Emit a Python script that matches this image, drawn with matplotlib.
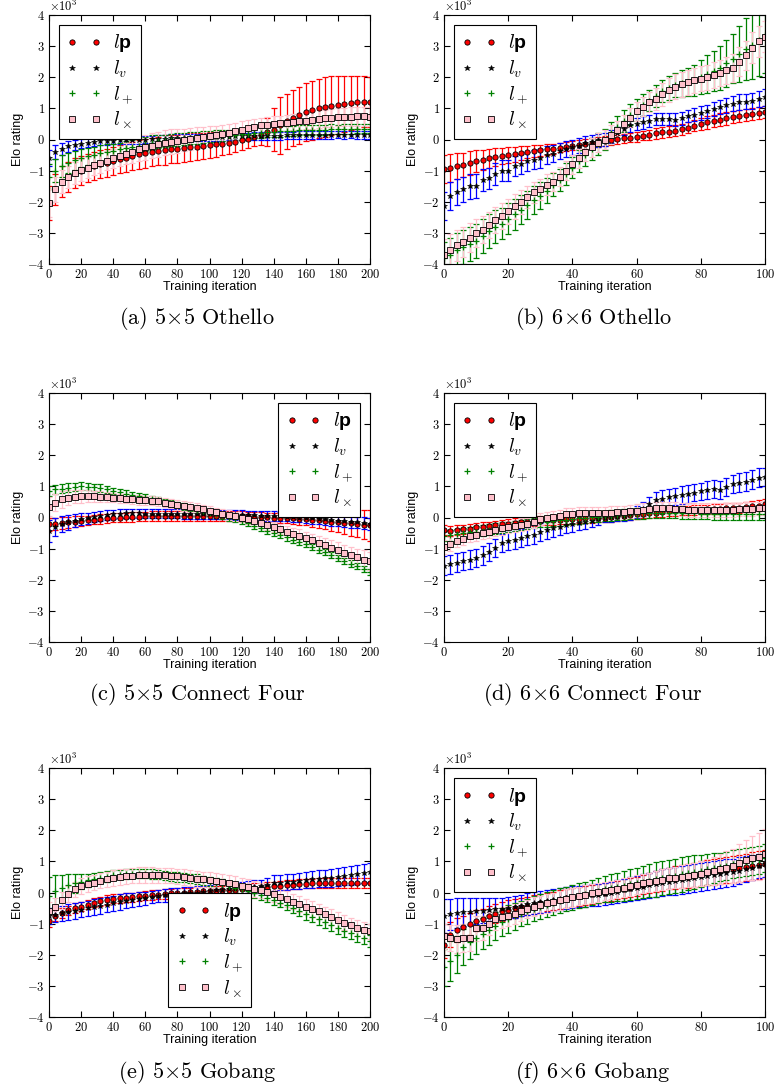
import matplotlib
matplotlib.use("Agg")
import matplotlib.pyplot as plt
import numpy as np
from matplotlib.ticker import MultipleLocator

plt.rcParams["font.family"] = "serif"
plt.rcParams["font.serif"] = ["cmr10"]
plt.rcParams["axes.formatter.use_mathtext"] = True
plt.rcParams["mathtext.fontset"] = "custom"
plt.rcParams["mathtext.rm"] = "cmr10"
plt.rcParams["mathtext.it"] = "cmmi10"
plt.rcParams["mathtext.bf"] = "Liberation Sans:bold"
plt.rcParams["mathtext.sf"] = "Liberation Sans"

# iterations at which values were read (5x5 boards: 0..200, 6x6 boards: 0..100)
iter_5x5 = list(range(0, 201, 4))
iter_6x6 = list(range(0, 101, 2))

# Elo ratings, in thousands
# (a) 5x5 Othello
a_lp = [-2.05, -1.6, -1.35, -1.2, -1.08, -1.0, -0.93, -0.86, -0.8, -0.74, -0.68,
        -0.63, -0.58, -0.53, -0.48, -0.44, -0.4, -0.37, -0.34, -0.31, -0.29, -0.27, -0.25, -0.23, -0.21, -0.19,
        -0.16, -0.13, -0.1, -0.07, -0.03, 0.02, 0.08, 0.15, 0.23,
        0.32, 0.45, 0.58, 0.68, 0.78, 0.87, 0.94, 1.0, 1.05, 1.09, 1.12, 1.15, 1.17, 1.2, 1.22, 1.21]
a_lp_err = [0.55, 0.5, 0.5, 0.48, 0.47, 0.46, 0.45, 0.45, 0.45, 0.45, 0.45,
            0.45, 0.46, 0.45, 0.47, 0.46, 0.45, 0.46, 0.47, 0.46, 0.45, 0.44, 0.45, 0.44, 0.43, 0.42,
            0.4, 0.38, 0.36, 0.34, 0.32, 0.3, 0.3, 0.32, 0.45,
            0.7, 0.9, 0.88, 0.9, 0.92, 0.93, 0.95, 0.95, 0.96, 0.95, 0.93, 0.9, 0.88, 0.85, 0.82, 0.8]
a_lv = [-0.6, -0.4, -0.3, -0.22, -0.17, -0.13, -0.1, -0.08, -0.06, -0.05, -0.04,
        -0.03, -0.02, -0.02, -0.01, 0.0, 0.01, 0.02, 0.03, 0.04, 0.05, 0.05, 0.06, 0.07, 0.07, 0.08,
        0.08, 0.09, 0.09, 0.1, 0.1, 0.1, 0.11, 0.11, 0.12,
        0.12, 0.12, 0.13, 0.13, 0.14, 0.14, 0.14, 0.15, 0.15, 0.15, 0.15, 0.15, 0.16, 0.15, 0.15, 0.15]
a_lv_err = [0.25, 0.22, 0.2, 0.18, 0.16, 0.15, 0.14, 0.13, 0.13, 0.12, 0.12,
            0.12, 0.12, 0.13, 0.12, 0.12, 0.11, 0.12, 0.12, 0.13, 0.12, 0.12, 0.11, 0.12, 0.12, 0.12,
            0.12, 0.13, 0.12, 0.12, 0.11, 0.12, 0.12, 0.12, 0.13,
            0.12, 0.12, 0.12, 0.11, 0.12, 0.12, 0.13, 0.12, 0.12, 0.12, 0.11, 0.12, 0.12, 0.12, 0.12, 0.12]
a_lplus = [-1.2, -1.0, -0.85, -0.75, -0.67, -0.6, -0.54, -0.49, -0.44, -0.4, -0.36,
           -0.32, -0.28, -0.24, -0.2, -0.15, -0.1, -0.06, -0.04, -0.02, 0.0, 0.02, 0.04, 0.06, 0.08, 0.1,
           0.11, 0.13, 0.14, 0.16, 0.18, 0.19, 0.21, 0.22, 0.24,
           0.25, 0.26, 0.27, 0.28, 0.29, 0.3, 0.31, 0.31, 0.32, 0.33, 0.33, 0.34, 0.34, 0.35, 0.35, 0.35]
a_lplus_err = [0.4, 0.38, 0.35, 0.33, 0.3, 0.28, 0.27, 0.26, 0.25, 0.24, 0.23,
               0.22, 0.22, 0.21, 0.21, 0.22, 0.24, 0.22, 0.2, 0.2, 0.2, 0.19, 0.19, 0.19, 0.18, 0.18,
               0.18, 0.18, 0.18, 0.18, 0.18, 0.17, 0.17, 0.17, 0.17,
               0.17, 0.17, 0.17, 0.16, 0.16, 0.16, 0.16, 0.16, 0.16, 0.16, 0.15, 0.15, 0.15, 0.15, 0.15, 0.15]
a_lx = [-2.05, -1.6, -1.35, -1.2, -1.08, -0.98, -0.9, -0.83, -0.76, -0.68, -0.6,
        -0.53, -0.46, -0.4, -0.32, -0.25, -0.2, -0.15, -0.11, -0.07, -0.04, -0.01, 0.02, 0.05, 0.08, 0.11,
        0.14, 0.18, 0.22, 0.27, 0.32, 0.37, 0.41, 0.45, 0.48,
        0.5, 0.52, 0.54, 0.56, 0.58, 0.6, 0.63, 0.66, 0.68, 0.7, 0.71, 0.72, 0.73, 0.74, 0.74, 0.73]
a_lx_err = [0.45, 0.4, 0.38, 0.36, 0.35, 0.34, 0.33, 0.32, 0.32, 0.31, 0.3,
            0.32, 0.34, 0.36, 0.38, 0.4, 0.4, 0.4, 0.4, 0.4, 0.38, 0.36, 0.35, 0.34, 0.33, 0.32,
            0.3, 0.3, 0.28, 0.27, 0.26, 0.26, 0.25, 0.25, 0.25,
            0.25, 0.25, 0.26, 0.26, 0.27, 0.27, 0.28, 0.28, 0.28, 0.29, 0.29, 0.3, 0.3, 0.3, 0.3, 0.3]

# (b) 6x6 Othello
b_lp = [-0.95, -0.9, -0.85, -0.82, -0.76, -0.7, -0.66, -0.6, -0.56, -0.53,
        -0.5, -0.47, -0.43, -0.4, -0.37, -0.35, -0.32, -0.29, -0.26, -0.23,
        -0.2, -0.17, -0.14, -0.11, -0.08, -0.05, -0.02, 0.01, 0.04, 0.06,
        0.08, 0.12, 0.16, 0.2, 0.23, 0.25, 0.28, 0.33, 0.38, 0.44,
        0.5, 0.55, 0.6, 0.64, 0.68, 0.72, 0.75, 0.78, 0.82, 0.85, 0.88]
b_lp_err = [0.45, 0.45, 0.42, 0.4, 0.38, 0.35, 0.32, 0.3, 0.28, 0.27,
            0.25, 0.24, 0.22, 0.2, 0.19, 0.18, 0.17, 0.16, 0.15, 0.15,
            0.15, 0.15, 0.15, 0.15, 0.15, 0.15, 0.15, 0.15, 0.15, 0.15,
            0.15, 0.15, 0.16, 0.17, 0.17, 0.18, 0.18, 0.18, 0.18, 0.18,
            0.2, 0.2, 0.2, 0.2, 0.2, 0.2, 0.2, 0.2, 0.2, 0.2, 0.2]
b_lv = [-2.15, -1.8, -1.7, -1.6, -1.5, -1.5, -1.3, -1.25, -1.1, -1.0,
        -1.0, -0.85, -0.8, -0.7, -0.65, -0.6, -0.5, -0.45, -0.38, -0.3,
        -0.25, -0.2, -0.12, -0.08, -0.03, 0.0, 0.1, 0.2, 0.35, 0.45,
        0.5, 0.55, 0.6, 0.65, 0.66, 0.65, 0.64, 0.68, 0.75, 0.8,
        0.85, 0.9, 0.98, 1.05, 1.1, 1.15, 1.2, 1.22, 1.25, 1.3, 1.35]
b_lv_err = [0.45, 0.45, 0.42, 0.4, 0.4, 0.38, 0.36, 0.35, 0.35, 0.34,
            0.33, 0.32, 0.32, 0.3, 0.3, 0.3, 0.28, 0.27, 0.26, 0.25,
            0.25, 0.24, 0.23, 0.22, 0.22, 0.2, 0.2, 0.2, 0.2, 0.2,
            0.2, 0.2, 0.2, 0.2, 0.2, 0.2, 0.2, 0.2, 0.2, 0.22,
            0.22, 0.22, 0.23, 0.23, 0.24, 0.24, 0.25, 0.25, 0.26, 0.27, 0.28]
b_lplus = [-3.8, -3.7, -3.55, -3.45, -3.35, -3.25, -3.1, -2.95, -2.8, -2.7,
           -2.55, -2.4, -2.25, -2.1, -1.95, -1.8, -1.65, -1.45, -1.3, -1.1,
           -0.9, -0.7, -0.5, -0.3, -0.15, 0.0, 0.2, 0.4, 0.6, 0.8,
           0.95, 1.1, 1.25, 1.4, 1.55, 1.65, 1.75, 1.8, 1.85, 1.9,
           2.0, 2.1, 2.2, 2.3, 2.45, 2.6, 2.75, 2.9, 3.05, 3.2, 3.35]
b_lplus_err = [0.5, 0.55, 0.55, 0.55, 0.55, 0.55, 0.55, 0.55, 0.52, 0.5,
               0.5, 0.5, 0.48, 0.46, 0.44, 0.42, 0.4, 0.38, 0.36, 0.35,
               0.35, 0.35, 0.35, 0.35, 0.35, 0.35, 0.35, 0.35, 0.35, 0.35,
               0.35, 0.35, 0.35, 0.35, 0.35, 0.38, 0.4, 0.42, 0.45, 0.5,
               0.55, 0.6, 0.65, 0.7, 0.75, 0.8, 0.9, 1.0, 1.1, 1.15, 1.2]
b_lx = [-3.7, -3.55, -3.4, -3.3, -3.15, -3.0, -2.9, -2.75, -2.6, -2.45,
        -2.3, -2.15, -2.0, -1.85, -1.7, -1.6, -1.45, -1.35, -1.2, -1.0,
        -0.8, -0.6, -0.4, -0.25, -0.1, 0.0, 0.15, 0.3, 0.5, 0.7,
        0.9, 1.05, 1.2, 1.3, 1.45, 1.6, 1.7, 1.78, 1.84, 1.9,
        1.95, 2.0, 2.08, 2.15, 2.22, 2.3, 2.5, 2.7, 2.95, 3.15, 3.3]
b_lx_err = [0.5, 0.5, 0.5, 0.48, 0.46, 0.45, 0.44, 0.43, 0.42, 0.41,
            0.4, 0.4, 0.38, 0.36, 0.35, 0.34, 0.33, 0.32, 0.31, 0.3,
            0.3, 0.3, 0.3, 0.3, 0.3, 0.3, 0.3, 0.3, 0.3, 0.3,
            0.3, 0.3, 0.32, 0.34, 0.36, 0.38, 0.4, 0.4, 0.4, 0.4,
            0.4, 0.4, 0.42, 0.42, 0.44, 0.45, 0.46, 0.48, 0.5, 0.5, 0.5]

# (c) 5x5 Connect Four
c_lp = [-0.22, -0.2, -0.17, -0.15, -0.13, -0.1, -0.09, -0.07, -0.05, -0.03, -0.01,
        0.0, 0.01, 0.02, 0.03, 0.04, 0.05, 0.05, 0.05, 0.05, 0.05, 0.05, 0.05, 0.05, 0.05, 0.05,
        0.05, 0.05, 0.05, 0.05, 0.05, 0.04, 0.03, 0.02, 0.01,
        0.0, -0.01, -0.02, -0.03, -0.04, -0.05, -0.07, -0.09, -0.11, -0.13, -0.15, -0.17, -0.19, -0.21, -0.23, -0.25]
c_lp_err = [0.2, 0.2, 0.19, 0.18, 0.17, 0.16, 0.15, 0.15, 0.15, 0.15, 0.15,
            0.15, 0.15, 0.15, 0.15, 0.15, 0.15, 0.15, 0.15, 0.15, 0.15, 0.15, 0.15, 0.15, 0.15, 0.15,
            0.15, 0.15, 0.15, 0.15, 0.15, 0.15, 0.15, 0.15, 0.15,
            0.15, 0.16, 0.17, 0.18, 0.19, 0.2, 0.22, 0.24, 0.27, 0.3, 0.33, 0.36, 0.4, 0.43, 0.46, 0.5]
c_lv = [-0.43, -0.3, -0.22, -0.16, -0.1, -0.05, -0.02, 0.02, 0.05, 0.08, 0.1,
        0.12, 0.13, 0.13, 0.13, 0.12, 0.12, 0.12, 0.12, 0.12, 0.12, 0.11, 0.11, 0.1, 0.1, 0.1,
        0.1, 0.09, 0.09, 0.08, 0.08, 0.07, 0.07, 0.06, 0.05,
        0.05, 0.04, 0.03, 0.02, 0.0, -0.02, -0.03, -0.05, -0.06, -0.08, -0.1, -0.12, -0.14, -0.16, -0.18, -0.2]
c_lv_err = [0.35, 0.3, 0.26, 0.23, 0.2, 0.19, 0.18, 0.17, 0.16, 0.15, 0.15,
            0.15, 0.15, 0.15, 0.15, 0.15, 0.15, 0.15, 0.15, 0.15, 0.15, 0.15, 0.15, 0.15, 0.15, 0.15,
            0.15, 0.15, 0.15, 0.15, 0.15, 0.15, 0.15, 0.15, 0.15,
            0.15, 0.15, 0.15, 0.16, 0.16, 0.16, 0.17, 0.17, 0.17, 0.18, 0.18, 0.18, 0.19, 0.19, 0.2, 0.2]
c_lplus = [0.85, 0.9, 0.93, 0.96, 0.98, 1.0, 0.99, 0.97, 0.95, 0.9, 0.85,
           0.81, 0.77, 0.73, 0.69, 0.65, 0.6, 0.55, 0.5, 0.45, 0.4, 0.35, 0.3, 0.25, 0.2, 0.15,
           0.1, 0.05, 0.0, -0.05, -0.1, -0.18, -0.26, -0.34, -0.42,
           -0.5, -0.57, -0.64, -0.71, -0.78, -0.85, -0.94, -1.03, -1.12, -1.21, -1.3, -1.39, -1.48, -1.57, -1.66, -1.75]
c_lplus_err = [0.15, 0.15, 0.14, 0.14, 0.13, 0.13, 0.12, 0.12, 0.12, 0.11, 0.11,
               0.1, 0.1, 0.1, 0.1, 0.1, 0.1, 0.1, 0.1, 0.1, 0.1, 0.1, 0.1, 0.1, 0.1, 0.1,
               0.1, 0.1, 0.1, 0.1, 0.1, 0.1, 0.1, 0.1, 0.1,
               0.1, 0.1, 0.1, 0.1, 0.1, 0.1, 0.1, 0.1, 0.1, 0.1, 0.1, 0.1, 0.1, 0.1, 0.1, 0.1]
c_lx = [0.35, 0.48, 0.58, 0.64, 0.67, 0.68, 0.69, 0.68, 0.67, 0.66, 0.64,
        0.62, 0.6, 0.58, 0.56, 0.55, 0.54, 0.52, 0.48, 0.44, 0.4, 0.37, 0.34, 0.3, 0.26, 0.22,
        0.17, 0.12, 0.08, 0.04, 0.0, -0.06, -0.12, -0.18, -0.24,
        -0.3, -0.37, -0.45, -0.52, -0.58, -0.65, -0.73, -0.81, -0.89, -0.97, -1.05, -1.13, -1.21, -1.28, -1.35, -1.4]
c_lx_err = [0.3, 0.28, 0.26, 0.24, 0.22, 0.2, 0.19, 0.18, 0.17, 0.16, 0.15,
            0.15, 0.15, 0.15, 0.15, 0.15, 0.15, 0.15, 0.15, 0.15, 0.15, 0.15, 0.15, 0.15, 0.15, 0.15,
            0.15, 0.15, 0.15, 0.15, 0.15, 0.15, 0.15, 0.15, 0.15,
            0.16, 0.17, 0.18, 0.19, 0.2, 0.2, 0.21, 0.22, 0.23, 0.24, 0.25, 0.26, 0.27, 0.28, 0.29, 0.3]

# (d) 6x6 Connect Four
d_lp = [-0.4, -0.42, -0.4, -0.38, -0.36, -0.32, -0.3, -0.28, -0.25, -0.22,
        -0.2, -0.18, -0.16, -0.14, -0.12, -0.1, -0.09, -0.08, -0.07, -0.06,
        -0.05, -0.04, -0.03, -0.02, -0.01, 0.0, 0.02, 0.04, 0.06, 0.08,
        0.1, 0.12, 0.14, 0.16, 0.18, 0.2, 0.21, 0.22, 0.23, 0.24,
        0.25, 0.26, 0.27, 0.28, 0.29, 0.3, 0.32, 0.34, 0.36, 0.38, 0.42]
d_lp_err = [0.15, 0.16, 0.15, 0.15, 0.16, 0.15, 0.15, 0.14, 0.15, 0.15,
            0.15, 0.15, 0.14, 0.15, 0.15, 0.15, 0.15, 0.15, 0.14, 0.15,
            0.15, 0.15, 0.15, 0.15, 0.15, 0.15, 0.15, 0.15, 0.15, 0.15,
            0.15, 0.15, 0.15, 0.15, 0.15, 0.15, 0.15, 0.15, 0.15, 0.15,
            0.15, 0.15, 0.15, 0.16, 0.16, 0.16, 0.16, 0.17, 0.17, 0.17, 0.17]
d_lv = [-1.55, -1.5, -1.45, -1.4, -1.35, -1.3, -1.22, -1.1, -0.98, -0.82,
        -0.75, -0.72, -0.66, -0.6, -0.55, -0.47, -0.4, -0.35, -0.3, -0.25,
        -0.2, -0.17, -0.14, -0.1, -0.05, 0.0, 0.02, 0.03, 0.05, 0.1,
        0.18, 0.28, 0.42, 0.55, 0.6, 0.65, 0.68, 0.72, 0.75, 0.8,
        0.84, 0.88, 0.92, 0.88, 0.98, 1.08, 1.12, 1.15, 1.22, 1.28, 1.3]
d_lv_err = [0.3, 0.31, 0.3, 0.3, 0.32, 0.3, 0.3, 0.29, 0.3, 0.3,
            0.3, 0.3, 0.3, 0.29, 0.3, 0.3, 0.28, 0.28, 0.27, 0.26,
            0.25, 0.24, 0.22, 0.2, 0.18, 0.16, 0.15, 0.15, 0.16, 0.18,
            0.2, 0.22, 0.25, 0.27, 0.28, 0.28, 0.28, 0.28, 0.28, 0.28,
            0.28, 0.29, 0.3, 0.3, 0.3, 0.3, 0.3, 0.3, 0.3, 0.3, 0.3]
d_lplus = [-0.6, -0.57, -0.54, -0.51, -0.48, -0.45, -0.42, -0.39, -0.36, -0.33,
           -0.3, -0.27, -0.24, -0.21, -0.18, -0.15, -0.13, -0.11, -0.09, -0.07,
           -0.05, -0.03, -0.01, 0.01, 0.03, 0.05, 0.06, 0.08, 0.09, 0.11,
           0.12, 0.13, 0.14, 0.14, 0.15, 0.15, 0.15, 0.14, 0.14, 0.13,
           0.12, 0.12, 0.12, 0.12, 0.12, 0.12, 0.12, 0.12, 0.12, 0.12, 0.12]
d_lplus_err = [0.17, 0.17, 0.17, 0.17, 0.17, 0.17, 0.17, 0.17, 0.17, 0.17,
               0.17, 0.17, 0.17, 0.17, 0.17, 0.17, 0.17, 0.17, 0.17, 0.17,
               0.17, 0.17, 0.17, 0.17, 0.17, 0.17, 0.17, 0.17, 0.17, 0.17,
               0.17, 0.17, 0.17, 0.17, 0.17, 0.18, 0.18, 0.18, 0.18, 0.18,
               0.18, 0.18, 0.19, 0.19, 0.19, 0.19, 0.2, 0.2, 0.2, 0.2, 0.2]
d_lx = [-0.95, -0.85, -0.75, -0.68, -0.6, -0.55, -0.5, -0.45, -0.4, -0.35,
        -0.3, -0.27, -0.23, -0.2, -0.13, -0.05, -0.02, 0.02, 0.05, 0.1,
        0.12, 0.13, 0.14, 0.15, 0.15, 0.15, 0.16, 0.17, 0.18, 0.2,
        0.22, 0.25, 0.28, 0.3, 0.3, 0.3, 0.28, 0.27, 0.25, 0.25,
        0.25, 0.25, 0.25, 0.25, 0.25, 0.25, 0.26, 0.27, 0.28, 0.29, 0.3]
d_lx_err = [0.22, 0.22, 0.21, 0.21, 0.2, 0.2, 0.2, 0.2, 0.2, 0.2,
            0.2, 0.2, 0.2, 0.2, 0.2, 0.2, 0.2, 0.2, 0.2, 0.2,
            0.2, 0.2, 0.2, 0.2, 0.2, 0.2, 0.2, 0.2, 0.2, 0.2,
            0.2, 0.2, 0.2, 0.2, 0.2, 0.2, 0.21, 0.21, 0.22, 0.22,
            0.22, 0.22, 0.22, 0.22, 0.22, 0.22, 0.22, 0.22, 0.22, 0.22, 0.22]

# (e) 5x5 Gobang
e_lp = [-0.9, -0.75, -0.65, -0.57, -0.5, -0.45, -0.39, -0.33, -0.28, -0.24, -0.2,
        -0.19, -0.17, -0.16, -0.12, -0.1, -0.08, -0.07, -0.05, -0.03, -0.02, -0.01, 0.01, 0.02, 0.04, 0.05,
        0.06, 0.07, 0.08, 0.09, 0.1, 0.12, 0.14, 0.16, 0.18,
        0.2, 0.22, 0.24, 0.25, 0.27, 0.28, 0.29, 0.3, 0.3, 0.3, 0.3, 0.3, 0.3, 0.31, 0.3, 0.3]
e_lp_err = [0.2, 0.18, 0.16, 0.15, 0.15, 0.15, 0.15, 0.15, 0.15, 0.15, 0.15,
            0.15, 0.15, 0.15, 0.15, 0.15, 0.15, 0.15, 0.15, 0.15, 0.15, 0.15, 0.15, 0.15, 0.15, 0.15,
            0.15, 0.15, 0.15, 0.15, 0.15, 0.15, 0.15, 0.15, 0.15,
            0.15, 0.15, 0.15, 0.15, 0.15, 0.15, 0.15, 0.15, 0.15, 0.15, 0.15, 0.15, 0.15, 0.15, 0.15, 0.15]
e_lv = [-0.75, -0.71, -0.67, -0.63, -0.59, -0.55, -0.51, -0.47, -0.43, -0.39, -0.35,
        -0.31, -0.27, -0.24, -0.21, -0.18, -0.15, -0.12, -0.09, -0.07, -0.05, -0.03, -0.01, 0.0, 0.02, 0.05,
        0.07, 0.09, 0.1, 0.12, 0.15, 0.17, 0.19, 0.2, 0.25,
        0.3, 0.32, 0.34, 0.35, 0.38, 0.4, 0.42, 0.44, 0.45, 0.47, 0.5, 0.52, 0.55, 0.58, 0.62, 0.65]
e_lv_err = [0.25, 0.25, 0.25, 0.25, 0.25, 0.25, 0.25, 0.25, 0.25, 0.25, 0.25,
            0.25, 0.24, 0.23, 0.22, 0.21, 0.2, 0.2, 0.2, 0.2, 0.2, 0.2, 0.2, 0.2, 0.2, 0.2,
            0.2, 0.2, 0.2, 0.2, 0.2, 0.2, 0.2, 0.2, 0.22,
            0.25, 0.25, 0.25, 0.25, 0.26, 0.26, 0.27, 0.27, 0.28, 0.28, 0.29, 0.29, 0.3, 0.3, 0.3, 0.3]
e_lplus = [-0.1, 0.05, 0.15, 0.23, 0.3, 0.35, 0.39, 0.43, 0.47, 0.51, 0.55,
           0.57, 0.59, 0.6, 0.6, 0.6, 0.59, 0.57, 0.55, 0.52, 0.5, 0.48, 0.46, 0.43, 0.39, 0.35,
           0.31, 0.27, 0.22, 0.16, 0.1, 0.04, -0.02, -0.09, -0.17,
           -0.25, -0.33, -0.41, -0.5, -0.6, -0.7, -0.78, -0.86, -0.95, -1.05, -1.15, -1.23, -1.31, -1.39, -1.47, -1.55]
e_lplus_err = [0.6, 0.5, 0.4, 0.35, 0.3, 0.25, 0.22, 0.2, 0.18, 0.17, 0.16,
               0.15, 0.15, 0.15, 0.15, 0.15, 0.15, 0.15, 0.15, 0.15, 0.15, 0.15, 0.15, 0.15, 0.15, 0.15,
               0.15, 0.15, 0.15, 0.15, 0.15, 0.15, 0.15, 0.15, 0.15,
               0.15, 0.15, 0.16, 0.16, 0.17, 0.17, 0.18, 0.18, 0.18, 0.19, 0.19, 0.2, 0.2, 0.2, 0.2, 0.2]
e_lx = [-0.6, -0.45, -0.25, -0.05, 0.1, 0.2, 0.28, 0.32, 0.38, 0.42, 0.47,
        0.49, 0.52, 0.54, 0.56, 0.56, 0.56, 0.55, 0.55, 0.54, 0.52, 0.5, 0.47, 0.44, 0.42, 0.4,
        0.38, 0.35, 0.32, 0.27, 0.22, 0.17, 0.12, 0.07, 0.01,
        -0.05, -0.13, -0.21, -0.29, -0.37, -0.45, -0.53, -0.61, -0.7, -0.79, -0.88, -0.97, -1.06, -1.14, -1.2, -1.25]
e_lx_err = [0.3, 0.28, 0.27, 0.26, 0.25, 0.25, 0.25, 0.25, 0.25, 0.25, 0.25,
            0.25, 0.25, 0.25, 0.25, 0.25, 0.25, 0.25, 0.25, 0.25, 0.25, 0.25, 0.25, 0.25, 0.25, 0.25,
            0.25, 0.25, 0.25, 0.25, 0.25, 0.25, 0.25, 0.25, 0.25,
            0.25, 0.25, 0.25, 0.25, 0.25, 0.25, 0.25, 0.25, 0.25, 0.25, 0.25, 0.25, 0.25, 0.25, 0.25, 0.25]

# (f) 6x6 Gobang
f_lp = [-1.7, -1.35, -1.2, -1.12, -1.0, -0.9, -0.85, -0.75, -0.68, -0.6,
        -0.55, -0.51, -0.47, -0.43, -0.39, -0.35, -0.31, -0.27, -0.23, -0.19,
        -0.15, -0.12, -0.09, -0.06, -0.03, 0.0, 0.04, 0.08, 0.12, 0.16,
        0.2, 0.25, 0.3, 0.35, 0.4, 0.45, 0.48, 0.51, 0.54, 0.57,
        0.6, 0.63, 0.66, 0.69, 0.72, 0.75, 0.78, 0.81, 0.84, 0.87, 0.9]
f_lp_err = [0.4, 0.4, 0.38, 0.36, 0.35, 0.34, 0.33, 0.32, 0.31, 0.3,
            0.3, 0.3, 0.3, 0.3, 0.3, 0.3, 0.3, 0.3, 0.3, 0.3,
            0.3, 0.3, 0.3, 0.3, 0.3, 0.3, 0.3, 0.3, 0.3, 0.3,
            0.3, 0.31, 0.32, 0.33, 0.34, 0.35, 0.36, 0.37, 0.38, 0.39,
            0.4, 0.4, 0.41, 0.42, 0.42, 0.43, 0.44, 0.44, 0.45, 0.45, 0.45]
f_lv = [-0.75, -0.7, -0.65, -0.63, -0.62, -0.6, -0.58, -0.55, -0.53, -0.52,
        -0.5, -0.46, -0.42, -0.38, -0.34, -0.3, -0.27, -0.24, -0.21, -0.18,
        -0.15, -0.13, -0.11, -0.09, -0.07, -0.05, -0.01, 0.03, 0.07, 0.11,
        0.15, 0.19, 0.23, 0.27, 0.31, 0.35, 0.38, 0.41, 0.44, 0.47,
        0.5, 0.53, 0.56, 0.59, 0.62, 0.65, 0.7, 0.75, 0.8, 0.85, 0.9]
f_lv_err = [0.55, 0.5, 0.48, 0.45, 0.43, 0.42, 0.4, 0.38, 0.36, 0.35,
            0.35, 0.35, 0.35, 0.35, 0.35, 0.35, 0.35, 0.35, 0.35, 0.35,
            0.35, 0.35, 0.35, 0.35, 0.35, 0.35, 0.35, 0.36, 0.37, 0.38,
            0.39, 0.4, 0.41, 0.42, 0.43, 0.44, 0.45, 0.45, 0.45, 0.45,
            0.45, 0.45, 0.45, 0.45, 0.45, 0.44, 0.43, 0.42, 0.41, 0.4, 0.4]
f_lplus = [-2.4, -2.2, -2.0, -1.75, -1.6, -1.45, -1.32, -1.2, -1.08, -0.96,
           -0.85, -0.77, -0.68, -0.6, -0.52, -0.45, -0.39, -0.33, -0.27, -0.21,
           -0.15, -0.1, -0.05, 0.0, 0.05, 0.1, 0.14, 0.18, 0.22, 0.26,
           0.3, 0.34, 0.38, 0.42, 0.46, 0.5, 0.54, 0.58, 0.62, 0.66,
           0.7, 0.74, 0.78, 0.82, 0.86, 0.9, 0.94, 0.98, 1.02, 1.06, 1.1]
f_lplus_err = [0.6, 0.65, 0.6, 0.58, 0.55, 0.52, 0.5, 0.48, 0.46, 0.45,
               0.44, 0.42, 0.4, 0.4, 0.4, 0.4, 0.4, 0.4, 0.4, 0.4,
               0.4, 0.4, 0.4, 0.4, 0.4, 0.42, 0.44, 0.46, 0.48, 0.5,
               0.5, 0.52, 0.54, 0.55, 0.55, 0.55, 0.55, 0.55, 0.55, 0.55,
               0.52, 0.5, 0.48, 0.46, 0.45, 0.45, 0.45, 0.45, 0.45, 0.45, 0.45]
f_lx = [-1.4, -1.45, -1.5, -1.45, -1.45, -1.15, -1.15, -1.0, -0.85, -0.8,
        -0.75, -0.68, -0.6, -0.53, -0.46, -0.4, -0.35, -0.3, -0.25, -0.2,
        -0.15, -0.11, -0.07, -0.03, 0.01, 0.05, 0.08, 0.11, 0.15, 0.2,
        0.25, 0.29, 0.33, 0.37, 0.41, 0.45, 0.48, 0.51, 0.54, 0.57,
        0.6, 0.65, 0.7, 0.75, 0.8, 0.85, 0.95, 1.05, 1.1, 1.15, 1.25]
f_lx_err = [0.4, 0.42, 0.45, 0.45, 0.42, 0.4, 0.38, 0.36, 0.35, 0.34,
            0.33, 0.32, 0.31, 0.3, 0.3, 0.3, 0.3, 0.3, 0.3, 0.3,
            0.3, 0.3, 0.3, 0.3, 0.3, 0.3, 0.3, 0.3, 0.3, 0.3,
            0.3, 0.3, 0.31, 0.32, 0.33, 0.34, 0.35, 0.36, 0.37, 0.38,
            0.4, 0.42, 0.45, 0.48, 0.52, 0.56, 0.6, 0.65, 0.7, 0.75, 0.8]

series_labels = [r"$l\mathbf{p}$", r"$l_v$", r"$l_+$", r"$l_\times$"]
captions = [r"(a) 5$\times$5 Othello", r"(b) 6$\times$6 Othello",
            r"(c) 5$\times$5 Connect Four", r"(d) 6$\times$6 Connect Four",
            r"(e) 5$\times$5 Gobang", r"(f) 6$\times$6 Gobang"]

panels = [
    (iter_5x5, [(a_lp, a_lp_err), (a_lv, a_lv_err), (a_lplus, a_lplus_err), (a_lx, a_lx_err)], "upper left"),
    (iter_6x6, [(b_lp, b_lp_err), (b_lv, b_lv_err), (b_lplus, b_lplus_err), (b_lx, b_lx_err)], "upper left"),
    (iter_5x5, [(c_lp, c_lp_err), (c_lv, c_lv_err), (c_lplus, c_lplus_err), (c_lx, c_lx_err)], "upper right"),
    (iter_6x6, [(d_lp, d_lp_err), (d_lv, d_lv_err), (d_lplus, d_lplus_err), (d_lx, d_lx_err)], "upper left"),
    (iter_5x5, [(e_lp, e_lp_err), (e_lv, e_lv_err), (e_lplus, e_lplus_err), (e_lx, e_lx_err)], "lower center"),
    (iter_6x6, [(f_lp, f_lp_err), (f_lv, f_lv_err), (f_lplus, f_lplus_err), (f_lx, f_lx_err)], "upper left"),
]

err_colors = ["red", "blue", "green", "pink"]
marker_styles = [
    dict(marker="o", ms=3.8, mfc="red", mec="k", mew=0.6),
    dict(marker="*", ms=4.2, mfc="k", mec="k", mew=0.4),
    dict(marker="+", ms=4.0, mfc="green", mec="green", mew=0.9),
    dict(marker="s", ms=3.8, mfc="pink", mec="k", mew=0.6),
]

fig = plt.figure(figsize=(7.75, 10.89), dpi=100)
W, H = 775, 1089
col_left = [49, 444]
row_top = [15, 393, 768]
ax_w, ax_h = 321, 249
cap_x = [197, 593]
cap_y = [318, 695, 1073]

for k, (iters, series, legend_loc) in enumerate(panels):
    r, c = divmod(k, 2)
    ax = fig.add_axes([col_left[c] / W, 1 - (row_top[r] + ax_h) / H, ax_w / W, ax_h / H])
    x = np.array(iters)
    for (y, e), ec in zip(series, err_colors):
        ax.errorbar(x, np.array(y) * 1000, yerr=np.array(e) * 1000, fmt="none",
                    ecolor=ec, elinewidth=0.9, capsize=2.5, capthick=0.9)
    for (y, e), st, lab in zip(series, marker_styles, series_labels):
        ax.plot(x, np.array(y) * 1000, linestyle="none", label=lab, **st)

    ax.set_xlim(0, x[-1])
    ax.set_ylim(-4000, 4000)
    ax.xaxis.set_major_locator(MultipleLocator(20))
    ax.yaxis.set_major_locator(MultipleLocator(1000))
    ax.ticklabel_format(axis="y", style="sci", scilimits=(0, 0), useMathText=True)
    ax.tick_params(direction="in", top=True, right=True, labelsize=9, length=4, pad=3)
    ax.yaxis.get_offset_text().set_fontsize(9)
    ax.set_xlabel("Training iteration", family="Liberation Sans", fontsize=9, labelpad=0)
    ax.set_ylabel("Elo rating", family="Liberation Sans", fontsize=9, labelpad=2)

    leg = ax.legend(loc=legend_loc, numpoints=2, fontsize=14, fancybox=False,
                    edgecolor="k", framealpha=1, handlelength=1.8, handletextpad=0.6,
                    borderpad=0.4, labelspacing=0.22)
    leg.get_frame().set_linewidth(0.8)

    fig.text(cap_x[c] / W, 1 - cap_y[r] / H, captions[k], ha="center", va="center", fontsize=16)

fig.savefig("out.png", dpi=100)
